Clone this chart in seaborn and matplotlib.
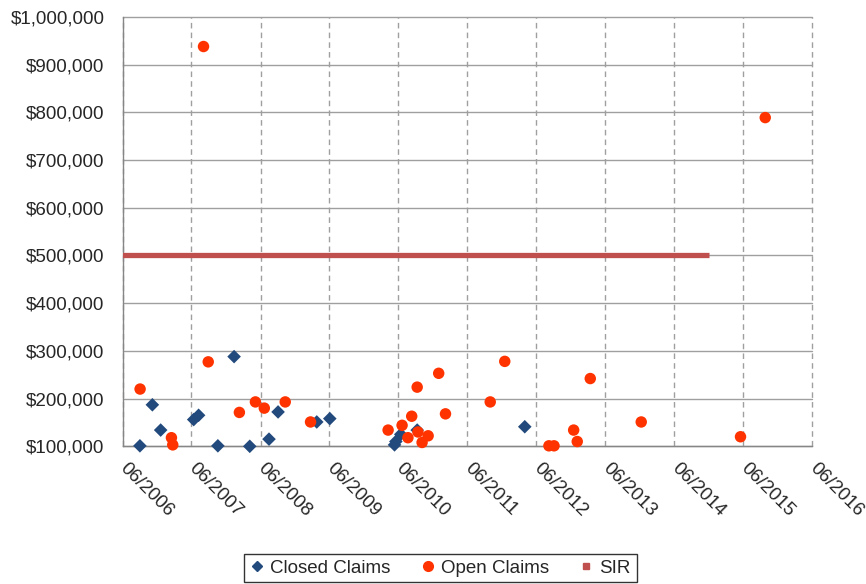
import pandas as pd
import seaborn as sns
import matplotlib
matplotlib.use("Agg")
import matplotlib.pyplot as plt
import matplotlib.dates as mdates
from matplotlib.lines import Line2D
from matplotlib.ticker import FuncFormatter

closed_dates = ["2006-09-01", "2006-11-06", "2006-12-20", "2007-06-13", "2007-07-09",
                "2007-10-19", "2008-01-13", "2008-04-05", "2008-07-16", "2008-09-02",
                "2009-03-26", "2009-06-03", "2010-05-12", "2010-05-19", "2010-06-14",
                "2010-09-09", "2012-04-01"]
closed_values = [101000, 187000, 134000, 156000, 165000,
                 101000, 288000, 100000, 115000, 172000,
                 151000, 158000, 103000, 110000, 125000,
                 134000, 141000]

open_dates = ["2006-09-02", "2007-02-15", "2007-02-22", "2007-08-04", "2007-08-29",
              "2008-02-10", "2008-05-05", "2008-06-21", "2008-10-10", "2009-02-21",
              "2010-04-08", "2010-06-21", "2010-07-22", "2010-08-11", "2010-09-09",
              "2010-09-13", "2010-10-05", "2010-11-06", "2011-01-01", "2011-02-06",
              "2011-10-01", "2011-12-17", "2012-08-07", "2012-09-03", "2012-12-16",
              "2013-01-04", "2013-03-14", "2013-12-09", "2015-05-19", "2015-09-27"]
open_values = [220000, 118000, 103000, 938000, 277000,
               171000, 193000, 180000, 193000, 151000,
               134000, 144000, 118000, 163000, 224000,
               130000, 108000, 122000, 253000, 168000,
               193000, 278000, 101000, 101000, 134000,
               110000, 242000, 151000, 120000, 789000]

sir_dates = ["2006-05-20", "2014-12-05"]
sir_values = [500000, 500000]

year_ticks = list(range(2006, 2017))

closed_color = "#234a7d"
open_color = "#ff3300"
sir_color = "#c0504d"
grid_color = "#9f9f9f"

sns.set_style("white")
plt.rcParams["font.family"] = ["Liberation Sans", "DejaVu Sans"]

fig = plt.figure(figsize=(8.66, 5.84), dpi=100)
ax = fig.add_axes([0.1415, 0.2358, 0.9377 - 0.1415, 0.971 - 0.2358])

sns.lineplot(x=pd.to_datetime(sir_dates), y=sir_values, color=sir_color, lw=3.8,
             solid_capstyle="butt", ax=ax, zorder=3)
sns.scatterplot(x=pd.to_datetime(closed_dates), y=closed_values, marker="D", s=48,
                color=closed_color, edgecolor="none", ax=ax, zorder=4, clip_on=False)
sns.scatterplot(x=pd.to_datetime(open_dates), y=open_values, marker="o", s=68,
                color=open_color, edgecolor="none", ax=ax, zorder=4, clip_on=False)

ax.set_xlim(pd.Timestamp("2006-06-01"), pd.Timestamp("2016-06-01"))
ax.set_ylim(100000, 1000000)
ax.set_xticks([pd.Timestamp(f"{y}-06-01") for y in year_ticks])
ax.xaxis.set_major_formatter(mdates.DateFormatter("%m/%Y"))
ax.set_yticks(range(100000, 1000001, 100000))
ax.yaxis.set_major_formatter(FuncFormatter(lambda v, p: f"${v:,.0f}"))

ax.grid(axis="y", color=grid_color, lw=1, ls="-")
ax.grid(axis="x", color=grid_color, lw=1, ls=(0, (4, 3)))
ax.set_axisbelow(True)
for line in ax.get_xgridlines() + ax.get_ygridlines():
    line.set_clip_on(False)
for side in ["top", "right"]:
    ax.spines[side].set_visible(False)
for side in ["left", "bottom"]:
    ax.spines[side].set_color("#868686")
    ax.spines[side].set_linewidth(1)

ax.tick_params(axis="y", direction="inout", length=10, color="#868686", labelsize=13.5, pad=8)
ax.tick_params(axis="x", direction="out", length=5, color="#868686", labelsize=13.5, pad=9)
for lab in ax.get_xticklabels():
    lab.set_rotation(-45)
    lab.set_ha("left")
    lab.set_va("center")
    lab.set_rotation_mode("anchor")
ax.set_xlabel("")
ax.set_ylabel("")

handles = [
    Line2D([], [], marker="D", ls="none", color=closed_color, markersize=5),
    Line2D([], [], marker="o", ls="none", color=open_color, markersize=7),
    Line2D([], [], marker="s", ls="none", color=sir_color, markersize=5),
]
leg = fig.legend(handles, ["Closed Claims", "Open Claims", "SIR"], loc="center",
                 bbox_to_anchor=(440 / 866, 1 - 568 / 584), ncol=3, fontsize=13.5,
                 frameon=True, fancybox=False, edgecolor="black", handlelength=0.8,
                 handletextpad=0.3, columnspacing=1.6, borderpad=0.3, borderaxespad=0)
leg.get_frame().set_linewidth(1)

fig.savefig("out.png", dpi=100)
